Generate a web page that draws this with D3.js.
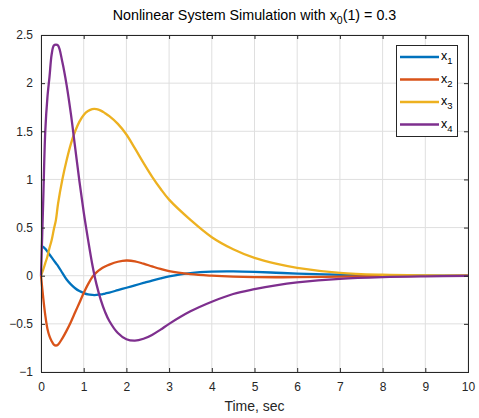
<!DOCTYPE html>
<html>
<head>
<meta charset="utf-8">
<script src="https://cdn.jsdelivr.net/npm/d3@7"></script>
<style>
  body { margin: 0; background: #fff; }
  svg { font-family: "Liberation Sans", Arial, sans-serif; }
</style>
</head>
<body>
<div class="chart"></div>
<script>
// time samples (sec) and the four states
const time = [0, 0.05, 0.1, 0.15, 0.2, 0.25, 0.3, 0.35, 0.4, 0.5, 0.6, 0.7, 0.8, 0.9, 1.0,
  1.1, 1.2, 1.3, 1.4, 1.5, 1.6, 1.8, 2.0, 2.2, 2.4, 2.6, 2.8, 3.0, 3.5, 4.0, 4.5, 5.0,
  5.5, 6.0, 7.0, 8.0, 9.0, 10.0]
const x1 = [0.3, 0.3, 0.28, 0.25, 0.22, 0.19, 0.16, 0.13, 0.1, 0.03, -0.04, -0.09, -0.13, -0.16, -0.18,
  -0.195, -0.2, -0.2, -0.195, -0.185, -0.175, -0.15, -0.125, -0.1, -0.075, -0.05, -0.027, -0.007, 0.028, 0.043, 0.045, 0.04,
  0.031, 0.022, 0.01, 0.004, 0.001, 0]
const x2 = [0, -0.22, -0.41, -0.55, -0.63, -0.68, -0.715, -0.725, -0.715, -0.65, -0.57, -0.48, -0.38, -0.28, -0.18,
  -0.09, -0.015, 0.035, 0.07, 0.095, 0.115, 0.145, 0.158, 0.15, 0.125, 0.097, 0.07, 0.047, 0.016, 0.0, -0.01, -0.015,
  -0.016, -0.015, -0.01, -0.005, -0.002, 0]
const x3 = [0, 0.06, 0.13, 0.2, 0.29, 0.37, 0.48, 0.58, 0.75, 1.0, 1.2, 1.37, 1.5, 1.6, 1.67,
  1.71, 1.73, 1.73, 1.715, 1.688, 1.657, 1.577, 1.467, 1.322, 1.172, 1.03, 0.903, 0.79, 0.58, 0.40, 0.275, 0.185,
  0.125, 0.082, 0.03, 0.01, 0.003, 0.001]
const x4 = [0, 0.75, 1.5, 1.85, 2.07, 2.3, 2.39, 2.4, 2.39, 2.22, 1.98, 1.68, 1.33, 0.98, 0.66,
  0.38, 0.12, -0.09, -0.25, -0.375, -0.47, -0.595, -0.66, -0.675, -0.655, -0.615, -0.56, -0.5, -0.37, -0.27, -0.19, -0.14,
  -0.1, -0.07, -0.032, -0.014, -0.006, -0.002]

const seriesNames = ["1", "2", "3", "4"]
const seriesColors = ["#0072BD", "#D95319", "#EDB120", "#7E2F8E"]
const xTicks = [0, 1, 2, 3, 4, 5, 6, 7, 8, 9, 10]
const yTicks = [-1, -0.5, 0, 0.5, 1, 1.5, 2, 2.5]

const W = 479, H = 418
const margin = ({top: 35, right: 11, bottom: 46, left: 41})
const width = W - margin.left - margin.right,
  height = H - margin.top - margin.bottom

const svg = d3.select(".chart").append("svg")
  .attr("width", W)
  .attr("height", H)

const g = svg.append("g")
  .attr("transform", "translate(" + margin.left + "," + margin.top + ")")

const X = d3.scaleLinear().domain([0, 10]).range([0, width])
const Y = d3.scaleLinear().domain([-1, 2.5]).range([height, 0])

const axisColor = "#262626"

// grid
g.append("g").selectAll("line").data(xTicks).enter().append("line")
  .attr("x1", d => X(d)).attr("x2", d => X(d))
  .attr("y1", 0).attr("y2", height)
  .attr("stroke", "#dfdfdf").attr("stroke-width", 1)
g.append("g").selectAll("line").data(yTicks).enter().append("line")
  .attr("y1", d => Y(d)).attr("y2", d => Y(d))
  .attr("x1", 0).attr("x2", width)
  .attr("stroke", "#dfdfdf").attr("stroke-width", 1)

// lines
const allSeries = [x1, x2, x3, x4]
const line = d3.line()
  .x((d, i) => X(time[i]))
  .y(d => Y(d))
  .curve(d3.curveCatmullRom.alpha(0.5))

g.append("g").selectAll("path").data(allSeries).enter().append("path")
  .attr("d", line)
  .attr("fill", "none")
  .attr("stroke", (d, i) => seriesColors[i])
  .attr("stroke-width", 2.3)
  .attr("stroke-linejoin", "round")

// axes, ticks pointing inward on all four sides
function styleAxis(sel) {
  sel.select(".domain").remove()
  sel.selectAll(".tick line").attr("stroke", axisColor)
  sel.selectAll(".tick text")
    .attr("fill", axisColor)
    .attr("font-size", 12)
    .attr("font-family", "Liberation Sans, Arial, sans-serif")
}

g.append("g")
  .attr("transform", `translate(0, ${height})`)
  .call(d3.axisBottom(X).tickValues(xTicks).tickSize(-4).tickPadding(10).tickFormat(d3.format("d")))
  .call(styleAxis)

g.append("g")
  .call(d3.axisTop(X).tickValues(xTicks).tickSize(-4).tickFormat(""))
  .call(styleAxis)

g.append("g")
  .call(d3.axisLeft(Y).tickValues(yTicks).tickSize(-4).tickPadding(8).tickFormat(d => d3.format("")(d)))
  .call(styleAxis)

g.append("g")
  .attr("transform", `translate(${width}, 0)`)
  .call(d3.axisRight(Y).tickValues(yTicks).tickSize(-4).tickFormat(""))
  .call(styleAxis)

g.append("rect")
  .attr("x", 0).attr("y", 0)
  .attr("width", width).attr("height", height)
  .attr("fill", "none")
  .attr("stroke", axisColor)
  .attr("stroke-width", 1)
  .attr("shape-rendering", "crispEdges")

// title
const title = svg.append("text")
  .attr("x", margin.left + width / 2)
  .attr("y", 20)
  .attr("text-anchor", "middle")
  .attr("font-size", 14.3)
  .attr("fill", "#000")
title.append("tspan").text("Nonlinear System Simulation with x")
title.append("tspan").text("0").attr("font-size", 10.5).attr("dy", 4)
title.append("tspan").text("(1) = 0.3").attr("dy", -4)

// x label
svg.append("text")
  .attr("x", margin.left + width / 2)
  .attr("y", 411)
  .attr("text-anchor", "middle")
  .attr("font-size", 14)
  .attr("fill", axisColor)
  .text("Time, sec")

// legend
const legend = svg.append("g").attr("transform", "translate(396, 45)")
legend.append("rect")
  .attr("x", 0.5).attr("y", 0.5)
  .attr("width", 61).attr("height", 91)
  .attr("fill", "#fff")
  .attr("stroke", axisColor)
  .attr("stroke-width", 1)

const item = legend.selectAll(".item").data(seriesNames).enter().append("g")
  .attr("transform", (d, i) => `translate(0, ${12 + i * 22.5})`)
item.append("line")
  .attr("x1", 4).attr("x2", 43)
  .attr("stroke", (d, i) => seriesColors[i])
  .attr("stroke-width", 2.3)
const lt = item.append("text")
  .attr("x", 45).attr("y", 3)
  .attr("font-size", 12.5)
  .attr("fill", "#000")
lt.append("tspan").text("x")
lt.append("tspan").text(d => d).attr("font-size", 9.5).attr("dy", 4)
</script>
</body>
</html>
